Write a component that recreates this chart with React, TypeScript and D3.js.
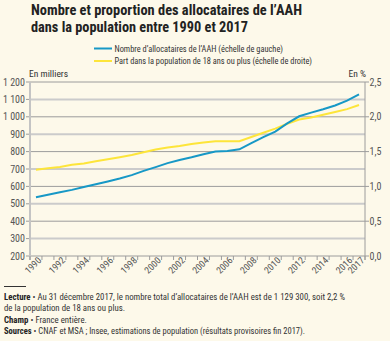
import React from "react";
import * as d3 from "d3";

const years = [1990,1991,1992,1993,1994,1995,1996,1997,1998,1999,2000,2001,2002,2003,2004,2005,2006,2007,2008,2009,2010,2011,2012,2013,2014,2015,2016,2017];
const allocataires = [538,552,566,580,596,612,628,645,665,689,711,734,752,767,785,801,803,813,849,883,915,962,1003,1024,1043,1065,1093,1129];
const partPop = [1.24,1.26,1.28,1.31,1.33,1.36,1.39,1.42,1.45,1.49,1.53,1.56,1.58,1.61,1.63,1.65,1.65,1.65,1.71,1.77,1.83,1.90,1.96,1.99,2.03,2.07,2.11,2.17];
const leftTicks = [200,300,400,500,600,700,800,900,1000,1100,1200];
const rightTicks = [0,0.5,1,1.5,2,2.5];
const xLabelYears = [1990,1992,1994,1996,1998,2000,2002,2004,2006,2008,2010,2012,2014,2016,2017];

const FONT = "'Liberation Sans Narrow', 'Arial Narrow', 'Roboto Condensed', 'Liberation Sans', sans-serif";
const BLUE = "#1798c6";
const YELLOW = "#fde53a";

function fmtLeft(v: number) {
  const s = String(v);
  return s.length > 3 ? s.slice(0, s.length - 3) + "\u00a0" + s.slice(-3) : s;
}

export default function App() {
  const x = d3.scaleBand<number>().domain(years).range([30, 365]);
  const yL = d3.scaleLinear().domain([200, 1200]).range([256, 82]);
  const yR = d3.scaleLinear().domain([0, 2.5]).range([256, 82]);
  const cx = (y: number) => (x(y) as number) + x.bandwidth() / 2;

  const lineL = d3.line<number>().x((_, i) => cx(years[i])).y((d) => yL(d));
  const lineR = d3.line<number>().x((_, i) => cx(years[i])).y((d) => yR(d));

  const edges = years.map((y) => x(y) as number).concat([365]);

  return (
    <svg width={390} height={341} style={{ position: "absolute", left: 0, top: 0, background: "#fdf9ea" }} fontFamily={FONT}>
      <rect x={0} y={0} width={390} height={341} fill="#fdf9ea" />
      <text x={31} y={15} fontSize={15.5} fontWeight="bold" fill="#222" textLength={271} lengthAdjust="spacingAndGlyphs">Nombre et proportion des allocataires de l’AAH</text>
      <text x={31} y={32} fontSize={15.5} fontWeight="bold" fill="#222" textLength={217} lengthAdjust="spacingAndGlyphs">dans la population entre 1990 et 2017</text>

      <line x1={94} x2={112} y1={48.5} y2={48.5} stroke={BLUE} strokeWidth={2} />
      <text x={114.5} y={51.5} fontSize={9} fill="#333" textLength={168.5} lengthAdjust="spacingAndGlyphs">Nombre d’allocataires de l’AAH (échelle de gauche)</text>
      <line x1={94} x2={112} y1={61} y2={61} stroke={YELLOW} strokeWidth={2} />
      <text x={114.5} y={64} fontSize={9} fill="#333" textLength={197.5} lengthAdjust="spacingAndGlyphs">Part dans la population de 18 ans ou plus (échelle de droite)</text>

      <text x={29} y={77} fontSize={9.5} fill="#333">En milliers</text>
      <text x={366} y={77} fontSize={9.5} fill="#333" textAnchor="end">En %</text>

      {leftTicks.map((t) => {
        const even = t % 200 === 0;
        return (
          <g key={t}>
            <line x1={30} x2={365} y1={yL(t)} y2={yL(t)} stroke={even ? "#9c9c9c" : "#cbcbcb"} strokeWidth={even ? 1 : 2} />
            <line x1={26} x2={30} y1={yL(t)} y2={yL(t)} stroke="#9c9c9c" strokeWidth={1} />
            <text x={25} y={yL(t) + 3.5} fontSize={10} fill="#555" textAnchor="end">{fmtLeft(t)}</text>
          </g>
        );
      })}
      {rightTicks.map((t) => (
        <g key={t}>
          <line x1={365} x2={369} y1={yR(t)} y2={yR(t)} stroke="#9c9c9c" strokeWidth={1} />
          <text x={369.5} y={yR(t) + 3.5} fontSize={10} fill="#555">{t.toFixed(1).replace(".", ",")}</text>
        </g>
      ))}
      <line x1={30} x2={30} y1={82} y2={260} stroke="#c4c4c4" strokeWidth={2} />
      <line x1={365} x2={365} y1={82} y2={260} stroke="#9c9c9c" strokeWidth={1} />

      {edges.map((e, i) => (
        <line key={i} x1={e} x2={e} y1={256} y2={260} stroke="#9c9c9c" strokeWidth={1} />
      ))}
      {xLabelYears.map((yr) => (
        <text key={yr} transform={`translate(${cx(yr) + 6},${261}) rotate(-45)`} fontSize={9.5} fill="#555" textAnchor="end">{yr}</text>
      ))}

      <path d={lineR(partPop) || ""} fill="none" stroke={YELLOW} strokeWidth={2} />
      <path d={lineL(allocataires) || ""} fill="none" stroke={BLUE} strokeWidth={2} />

      <line x1={4} x2={26} y1={286.5} y2={286.5} stroke="#333" strokeWidth={1} />
      <text x={4} y={299.5} fontSize={8.8} fill="#333" textLength={341} lengthAdjust="spacingAndGlyphs"><tspan fontWeight="bold" fill="#222">Lecture</tspan> • Au 31 décembre 2017, le nombre total d’allocataires de l’AAH est de 1 129 300, soit 2,2 %</text>
      <text x={4} y={311} fontSize={8.8} fill="#333">de la population de 18 ans ou plus.</text>
      <text x={4} y={322.5} fontSize={8.8} fill="#333"><tspan fontWeight="bold" fill="#222">Champ</tspan> • France entière.</text>
      <text x={4} y={333.5} fontSize={8.8} fill="#333" textLength={301} lengthAdjust="spacingAndGlyphs"><tspan fontWeight="bold" fill="#222">Sources</tspan> • CNAF et MSA ; Insee, estimations de population (résultats provisoires fin 2017).</text>
    </svg>
  );
}
